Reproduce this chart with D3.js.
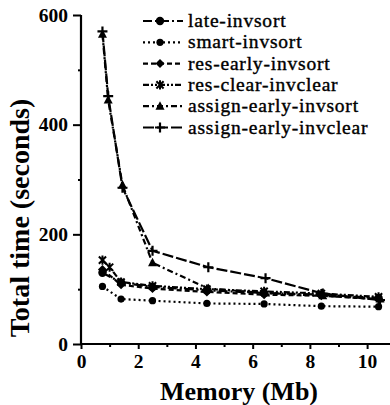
<!DOCTYPE html>
<html>
<head>
<meta charset="utf-8">
<script src="https://cdn.jsdelivr.net/npm/d3@7"></script>
<style>
  html, body { margin: 0; padding: 0; background: #fff; }
  svg { display: block; }
  text { font-family: "Liberation Serif", "Times New Roman", serif; fill: #000; }
</style>
</head>
<body>
<svg id="chart" width="390" height="405"></svg>
<script>
// Memory sizes (Mb) at which each configuration was measured
const memSteep = [0.75, 0.95, 1.45, 2.5, 4.45, 6.45, 8.45, 10.45];
const memLow   = [0.75, 1.4, 2.5, 4.4, 6.4, 8.4, 10.4];
const memClear = [0.75, 1.0, 1.4, 2.5, 4.4, 6.4, 8.4, 10.4];

// Total time (seconds) per configuration
const lateInvsort         = [130, 112, 104, 98, 93, 90, 84];
const smartInvsort        = [105, 82, 79, 74, 73, 69, 68];
const resEarlyInvsort     = [136, 108, 101, 95, 90, 88, 82];
const resClearInvclear    = [153, 140, 113, 106, 100, 96, 92, 86];
const assignEarlyInvsort  = [565, 445, 290, 148, 101, 93, 88, 82];
const assignEarlyInvclear = [570, 452, 285, 170, 140, 120, 92, 80];

const seriesNames = ["late-invsort", "smart-invsort", "res-early-invsort",
                     "res-clear-invclear", "assign-early-invsort", "assign-early-invclear"];

const xMajorTicks = [0, 2, 4, 6, 8, 10];
const xMinorTicks = [1, 3, 5, 7, 9];
const yMajorTicks = [0, 200, 400, 600];
const yMinorTicks = [100, 300, 500];

const series = [
  { name: seriesNames[0], x: memLow,   y: lateInvsort,         dash: "9,3,2,3",      marker: "circle" },
  { name: seriesNames[1], x: memLow,   y: smartInvsort,        dash: "2,3",          marker: "dot" },
  { name: seriesNames[2], x: memLow,   y: resEarlyInvsort,     dash: "5,3",          marker: "diamond" },
  { name: seriesNames[3], x: memClear, y: resClearInvclear,    dash: "6,2,2,2,2,2",  marker: "asterisk" },
  { name: seriesNames[4], x: memSteep, y: assignEarlyInvsort,  dash: "6,3,2,3",      marker: "triangle" },
  { name: seriesNames[5], x: memSteep, y: assignEarlyInvclear, dash: "11,3",         marker: "plus" }
];

const svg = d3.select("#chart");
const x = d3.scaleLinear().domain([0, 10.8]).range([81, 390]);
const y = d3.scaleLinear().domain([0, 600]).range([344, 15]);

// Axes
const xAxis = svg.append("g").attr("transform", `translate(0,${y(0)})`);
xAxis.call(d3.axisBottom(x).tickValues(xMajorTicks).tickSize(5).tickPadding(5).tickFormat(d3.format("d")));
xAxis.append("g").call(d3.axisBottom(x).tickValues(xMinorTicks).tickSize(3).tickFormat(""))
  .select(".domain").remove();

const yAxis = svg.append("g").attr("transform", `translate(${x(0)},0)`);
yAxis.call(d3.axisLeft(y).tickValues(yMajorTicks).tickSize(8).tickPadding(5).tickFormat(d3.format("d")));
yAxis.append("g").call(d3.axisLeft(y).tickValues(yMinorTicks).tickSize(3).tickFormat(""))
  .select(".domain").remove();

svg.selectAll(".domain").attr("stroke", "#000").attr("stroke-width", 2.2);
svg.selectAll(".tick line").attr("stroke", "#000").attr("stroke-width", 2);
svg.selectAll(".tick text")
  .style("font-family", '"Liberation Serif", serif')
  .style("font-size", "19.5px").style("font-weight", "bold").attr("fill", "#000");

// x-axis runs to the right edge; drop the outer tick caps
xAxis.select(".domain").attr("d", `M${x(0)},0H390`);
yAxis.select(".domain").attr("d", `M0,${y(600)}V${y(0)}`);

// Axis titles
svg.append("text")
  .attr("x", 239).attr("y", 399.5)
  .attr("text-anchor", "middle")
  .style("font-size", "26px").style("font-weight", "bold")
  .text("Memory (Mb)");

svg.append("text")
  .attr("transform", "translate(29,218) rotate(-90)")
  .attr("text-anchor", "middle")
  .style("font-size", "28px").style("font-weight", "bold")
  .text("Total time (seconds)");

// Marker shapes
function drawMarker(g, type, cx, cy) {
  const s = 3.6;
  if (type === "circle") {
    g.append("circle").attr("cx", cx).attr("cy", cy).attr("r", 4.2).attr("fill", "#000");
  } else if (type === "dot") {
    g.append("circle").attr("cx", cx).attr("cy", cy).attr("r", 3.6).attr("fill", "#000");
  } else if (type === "diamond") {
    g.append("path").attr("d", `M${cx},${cy - 4.5}L${cx + 4.5},${cy}L${cx},${cy + 4.5}L${cx - 4.5},${cy}Z`).attr("fill", "#000");
  } else if (type === "triangle") {
    g.append("path").attr("d", `M${cx},${cy - 5}L${cx + 4.5},${cy + 3.5}L${cx - 4.5},${cy + 3.5}Z`).attr("fill", "#000");
  } else if (type === "plus") {
    g.append("path").attr("d", `M${cx - 5},${cy}H${cx + 5}M${cx},${cy - 5}V${cy + 5}`)
      .attr("stroke", "#000").attr("stroke-width", 2.2);
  } else if (type === "asterisk") {
    g.append("path").attr("d",
      `M${cx - s},${cy - s}L${cx + s},${cy + s}M${cx + s},${cy - s}L${cx - s},${cy + s}M${cx},${cy - s - 1}V${cy + s + 1}`)
      .attr("stroke", "#000").attr("stroke-width", 2);
  }
}

// Lines and markers
const line = d3.line().x(d => x(d[0])).y(d => y(d[1]));
const plot = svg.append("g");
series.forEach(s => {
  const pts = s.x.map((m, i) => [m, s.y[i]]);
  plot.append("path").datum(pts)
    .attr("d", line)
    .attr("fill", "none").attr("stroke", "#000")
    .attr("stroke-width", 2.2).attr("stroke-dasharray", s.dash);
  const mg = plot.append("g");
  pts.forEach(p => drawMarker(mg, s.marker, x(p[0]), y(p[1])));
});

// Legend
const legend = svg.append("g");
series.forEach((s, i) => {
  const ly = 21 + i * 21.3;
  legend.append("line")
    .attr("x1", 143).attr("x2", 183).attr("y1", ly).attr("y2", ly)
    .attr("stroke", "#000").attr("stroke-width", 2.2).attr("stroke-dasharray", s.dash);
  drawMarker(legend, s.marker, 160, ly);
  legend.append("text")
    .attr("x", 188).attr("y", ly + 6)
    .style("font-size", "19.5px")
    .style("letter-spacing", "0.8px")
    .style("stroke", "#000").style("stroke-width", 0.4)
    .text(s.name);
});
</script>
</body>
</html>
